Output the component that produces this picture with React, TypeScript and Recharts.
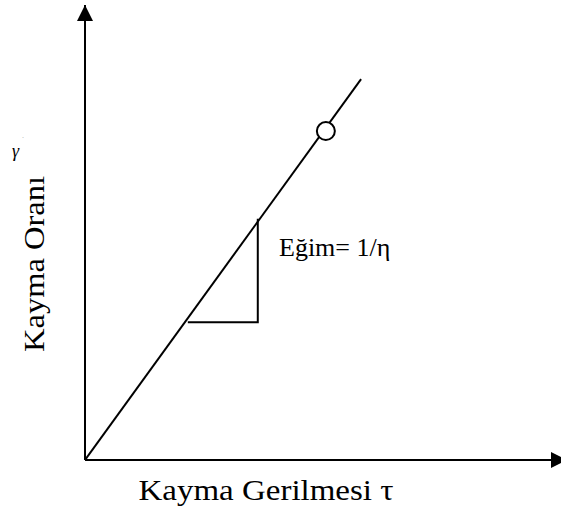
import React from "react";
import {
  ComposedChart,
  Line,
  XAxis,
  YAxis,
  ReferenceDot,
  ReferenceLine,
} from "recharts";

// Newtonian flow curve: shear rate grows linearly with shear stress
const flowTau = [0, 5.8];
const flowGamma = [0, 8.37];

// open marker on the curve
const markTau = [5.06];
const markGamma = [7.23];

// slope triangle (run then rise)
const stepTau = [2.16, 3.63, 3.63];
const stepGamma = [3.03, 3.03, 5.3];

// axis extents
const tauMax = 10;
const gammaMax = 10;

const flowData = flowTau.map((t, i) => ({ t, g: flowGamma[i] }));
const stepData = stepTau.map((t, i) => ({ t, g: stepGamma[i] }));

const FONT = "'Liberation Serif', 'Times New Roman', serif";
const W = 561;
const H = 511;

const UpArrow = (p: any) => (
  <polygon
    points={`${p.cx},${p.cy} ${p.cx - 8},${p.cy + 16} ${p.cx + 8},${p.cy + 16}`}
    fill="#000"
  />
);

const RightArrow = (p: any) => (
  <polygon
    points={`${p.cx + 6},${p.cy} ${p.cx - 10},${p.cy - 8} ${p.cx - 10},${p.cy + 8}`}
    fill="#000"
  />
);

const OpenRing = (p: any) => (
  <circle cx={p.cx} cy={p.cy} r={9} fill="#fff" stroke="#000" strokeWidth={2} />
);

export default function App() {
  return (
    <div style={{ position: "absolute", left: 0, top: 0, width: W, height: H, background: "#fff" }}>
      <ComposedChart
        width={W}
        height={H}
        margin={{ top: 5, right: 0, bottom: 51, left: 85 }}
      >
        <XAxis type="number" dataKey="t" domain={[0, tauMax]} hide allowDataOverflow />
        <YAxis type="number" dataKey="g" domain={[0, gammaMax]} hide allowDataOverflow />

        {/* axes drawn as plain segments so they meet at the origin */}
        <ReferenceLine
          segment={[{ x: 0, y: 0 }, { x: 0, y: gammaMax }]}
          stroke="#000"
          strokeWidth={2}
          ifOverflow="visible"
        />
        <ReferenceLine
          segment={[{ x: 0, y: 0 }, { x: tauMax, y: 0 }]}
          stroke="#000"
          strokeWidth={2}
          ifOverflow="visible"
        />

        <Line
          data={flowData}
          dataKey="g"
          stroke="#000"
          strokeWidth={2}
          dot={false}
          isAnimationActive={false}
        />
        <Line
          data={stepData}
          dataKey="g"
          stroke="#000"
          strokeWidth={2}
          dot={false}
          type="linear"
          isAnimationActive={false}
        />
        <ReferenceDot x={markTau[0]} y={markGamma[0]} shape={OpenRing} />
        <ReferenceDot x={0} y={gammaMax} shape={UpArrow} />
        <ReferenceDot x={tauMax} y={0} shape={RightArrow} />

        <text x={279} y={256} fontFamily={FONT} fontSize={26} fill="#000">
          Eğim= 1/η
        </text>
        <text
          x={266}
          y={500}
          textAnchor="middle"
          textLength={255}
          lengthAdjust="spacingAndGlyphs"
          fontFamily={FONT}
          fontSize={30}
          fill="#000"
        >
          Kayma Gerilmesi τ
        </text>
        <text
          x={44}
          y={264}
          textAnchor="middle"
          textLength={176}
          lengthAdjust="spacingAndGlyphs"
          transform="rotate(-90 44 264)"
          fontFamily={FONT}
          fontSize={30}
          fill="#000"
        >
          Kayma Oranı
        </text>
        <text x={12} y={157} fontFamily={FONT} fontStyle="italic" fontSize={18} fill="#000">
          γ
        </text>
        <text x={22} y={138} fontFamily={FONT} fontSize={8} fill="#aaa">
          .
        </text>
      </ComposedChart>
    </div>
  );
}
